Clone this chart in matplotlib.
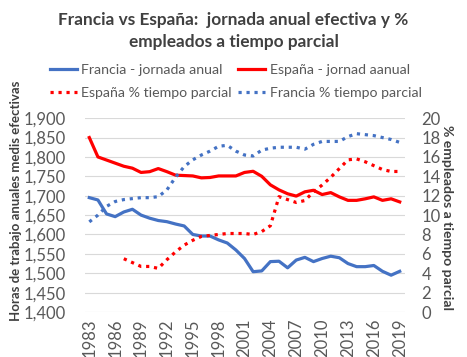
import matplotlib
matplotlib.use("Agg")
import matplotlib.pyplot as plt
from matplotlib.ticker import FuncFormatter

plt.rcParams["font.family"] = ["Lato", "DejaVu Sans"]

years = list(range(1983, 2020))

# horas anuales efectivas
francia_horas = [1695, 1689, 1653, 1646, 1658, 1665, 1650, 1642, 1636, 1633,
                 1627, 1622, 1600, 1596, 1596, 1586, 1578, 1560, 1538, 1504,
                 1506, 1530, 1531, 1514, 1534, 1541, 1530, 1538, 1544, 1540,
                 1525, 1517, 1517, 1520, 1505, 1495, 1505]
espana_horas = [1850, 1800, 1792, 1784, 1776, 1771, 1760, 1762, 1770, 1762,
                1753, 1752, 1751, 1746, 1747, 1751, 1751, 1751, 1760, 1763,
                1750, 1728, 1715, 1705, 1699, 1710, 1714, 1703, 1708, 1697,
                1688, 1688, 1692, 1697, 1688, 1692, 1684]

# % empleados a tiempo parcial
espana_years = list(range(1987, 2020))
espana_parcial = [5.5, 5.1, 4.7, 4.7, 4.5, 5.4, 6.2, 6.9, 7.4, 7.8,
                  7.9, 8.0, 8.1, 8.1, 8.1, 8.0, 8.3, 8.9, 11.9, 11.6,
                  11.3, 11.5, 12.4, 13.1, 13.9, 14.8, 15.7, 15.8, 15.5, 15.1,
                  14.7, 14.5, 14.5]
francia_parcial = [9.3, 10.0, 10.9, 11.4, 11.6, 11.7, 11.8, 11.8, 11.9, 12.6,
                   13.9, 15.0, 15.7, 16.2, 16.6, 17.1, 17.2, 16.6, 16.2, 16.1,
                   16.7, 16.9, 17.0, 17.0, 17.0, 16.8, 17.3, 17.6, 17.6, 17.6,
                   18.1, 18.4, 18.3, 18.2, 18.0, 17.8, 17.5]

azul = "#4472c4"
rojo = "#ff0000"
gris = "#595959"

fig = plt.figure(figsize=(4.67, 3.57), dpi=100)
ax = fig.add_axes([0.182, 0.126, 0.685, 0.543])
ax2 = ax.twinx()

l1, = ax.plot(years, francia_horas, color=azul, lw=2.3, label="Francia - jornada anual")
l2, = ax.plot(years, espana_horas, color=rojo, lw=2.3, label="España - jornad aanual")
l3, = ax2.plot(espana_years, espana_parcial, color=rojo, lw=2.3, ls=(0, (1, 1.5)),
               label="España % tiempo parcial")
l4, = ax2.plot(years, francia_parcial, color=azul, lw=2.3, ls=(0, (1, 1.5)),
               label="Francia % tiempo parcial")

ax.set_ylim(1400, 1900)
ax.set_yticks(range(1400, 1901, 50))
ax.yaxis.set_major_formatter(FuncFormatter(lambda v, p: f"{int(v):,}"))
ax2.set_ylim(0, 20)
ax2.set_yticks(range(0, 21, 2))
ax.set_xlim(1982.5, 2019.6)
ax.set_xticks(range(1983, 2020, 3))
ax.tick_params(axis="x", labelrotation=90)

ax.grid(axis="y", color="#d9d9d9", lw=0.8)
ax.set_axisbelow(True)
for a in (ax, ax2):
    for s in a.spines.values():
        s.set_visible(False)
    a.tick_params(length=0, colors=gris, labelsize=12)
ax.tick_params(axis="y", pad=14)
ax.tick_params(axis="x", pad=5)
ax2.tick_params(axis="y", pad=12)

lab1 = ax.set_ylabel("Horas de trabajo anuales medis efectivas", fontsize=10.6,
                     fontweight="bold", color="#404040")
ax.yaxis.set_label_coords(-0.197, 0.572)
lab2 = ax2.set_ylabel("% empleados a tiempo parcial", fontsize=9.6,
                      fontweight="bold", color="#404040", rotation=270, va="center")
ax2.yaxis.set_label_coords(1.131, 0.49)

# size the axis titles to the lengths seen in the original (in pixels)
fig.canvas.draw()
for lab, target in [(lab1, 242), (lab2, 187)]:
    h = lab.get_window_extent().height
    lab.set_fontsize(lab.get_fontsize() * target / h)

fig.text(0.5, 0.965, "Francia vs España:  jornada anual efectiva y %\nempleados a tiempo parcial",
         ha="center", va="top", fontsize=12.4, fontweight="bold", color="#404040",
         linespacing=1.4)

fig.legend(handles=[l1, l3, l2, l4], ncol=2, loc="center",
           bbox_to_anchor=(0.505, 0.771), frameon=False, fontsize=10.2,
           labelcolor=gris, handlelength=1.9, handletextpad=0.3,
           columnspacing=0.45, labelspacing=0.75)

fig.savefig("out.png", dpi=100)
